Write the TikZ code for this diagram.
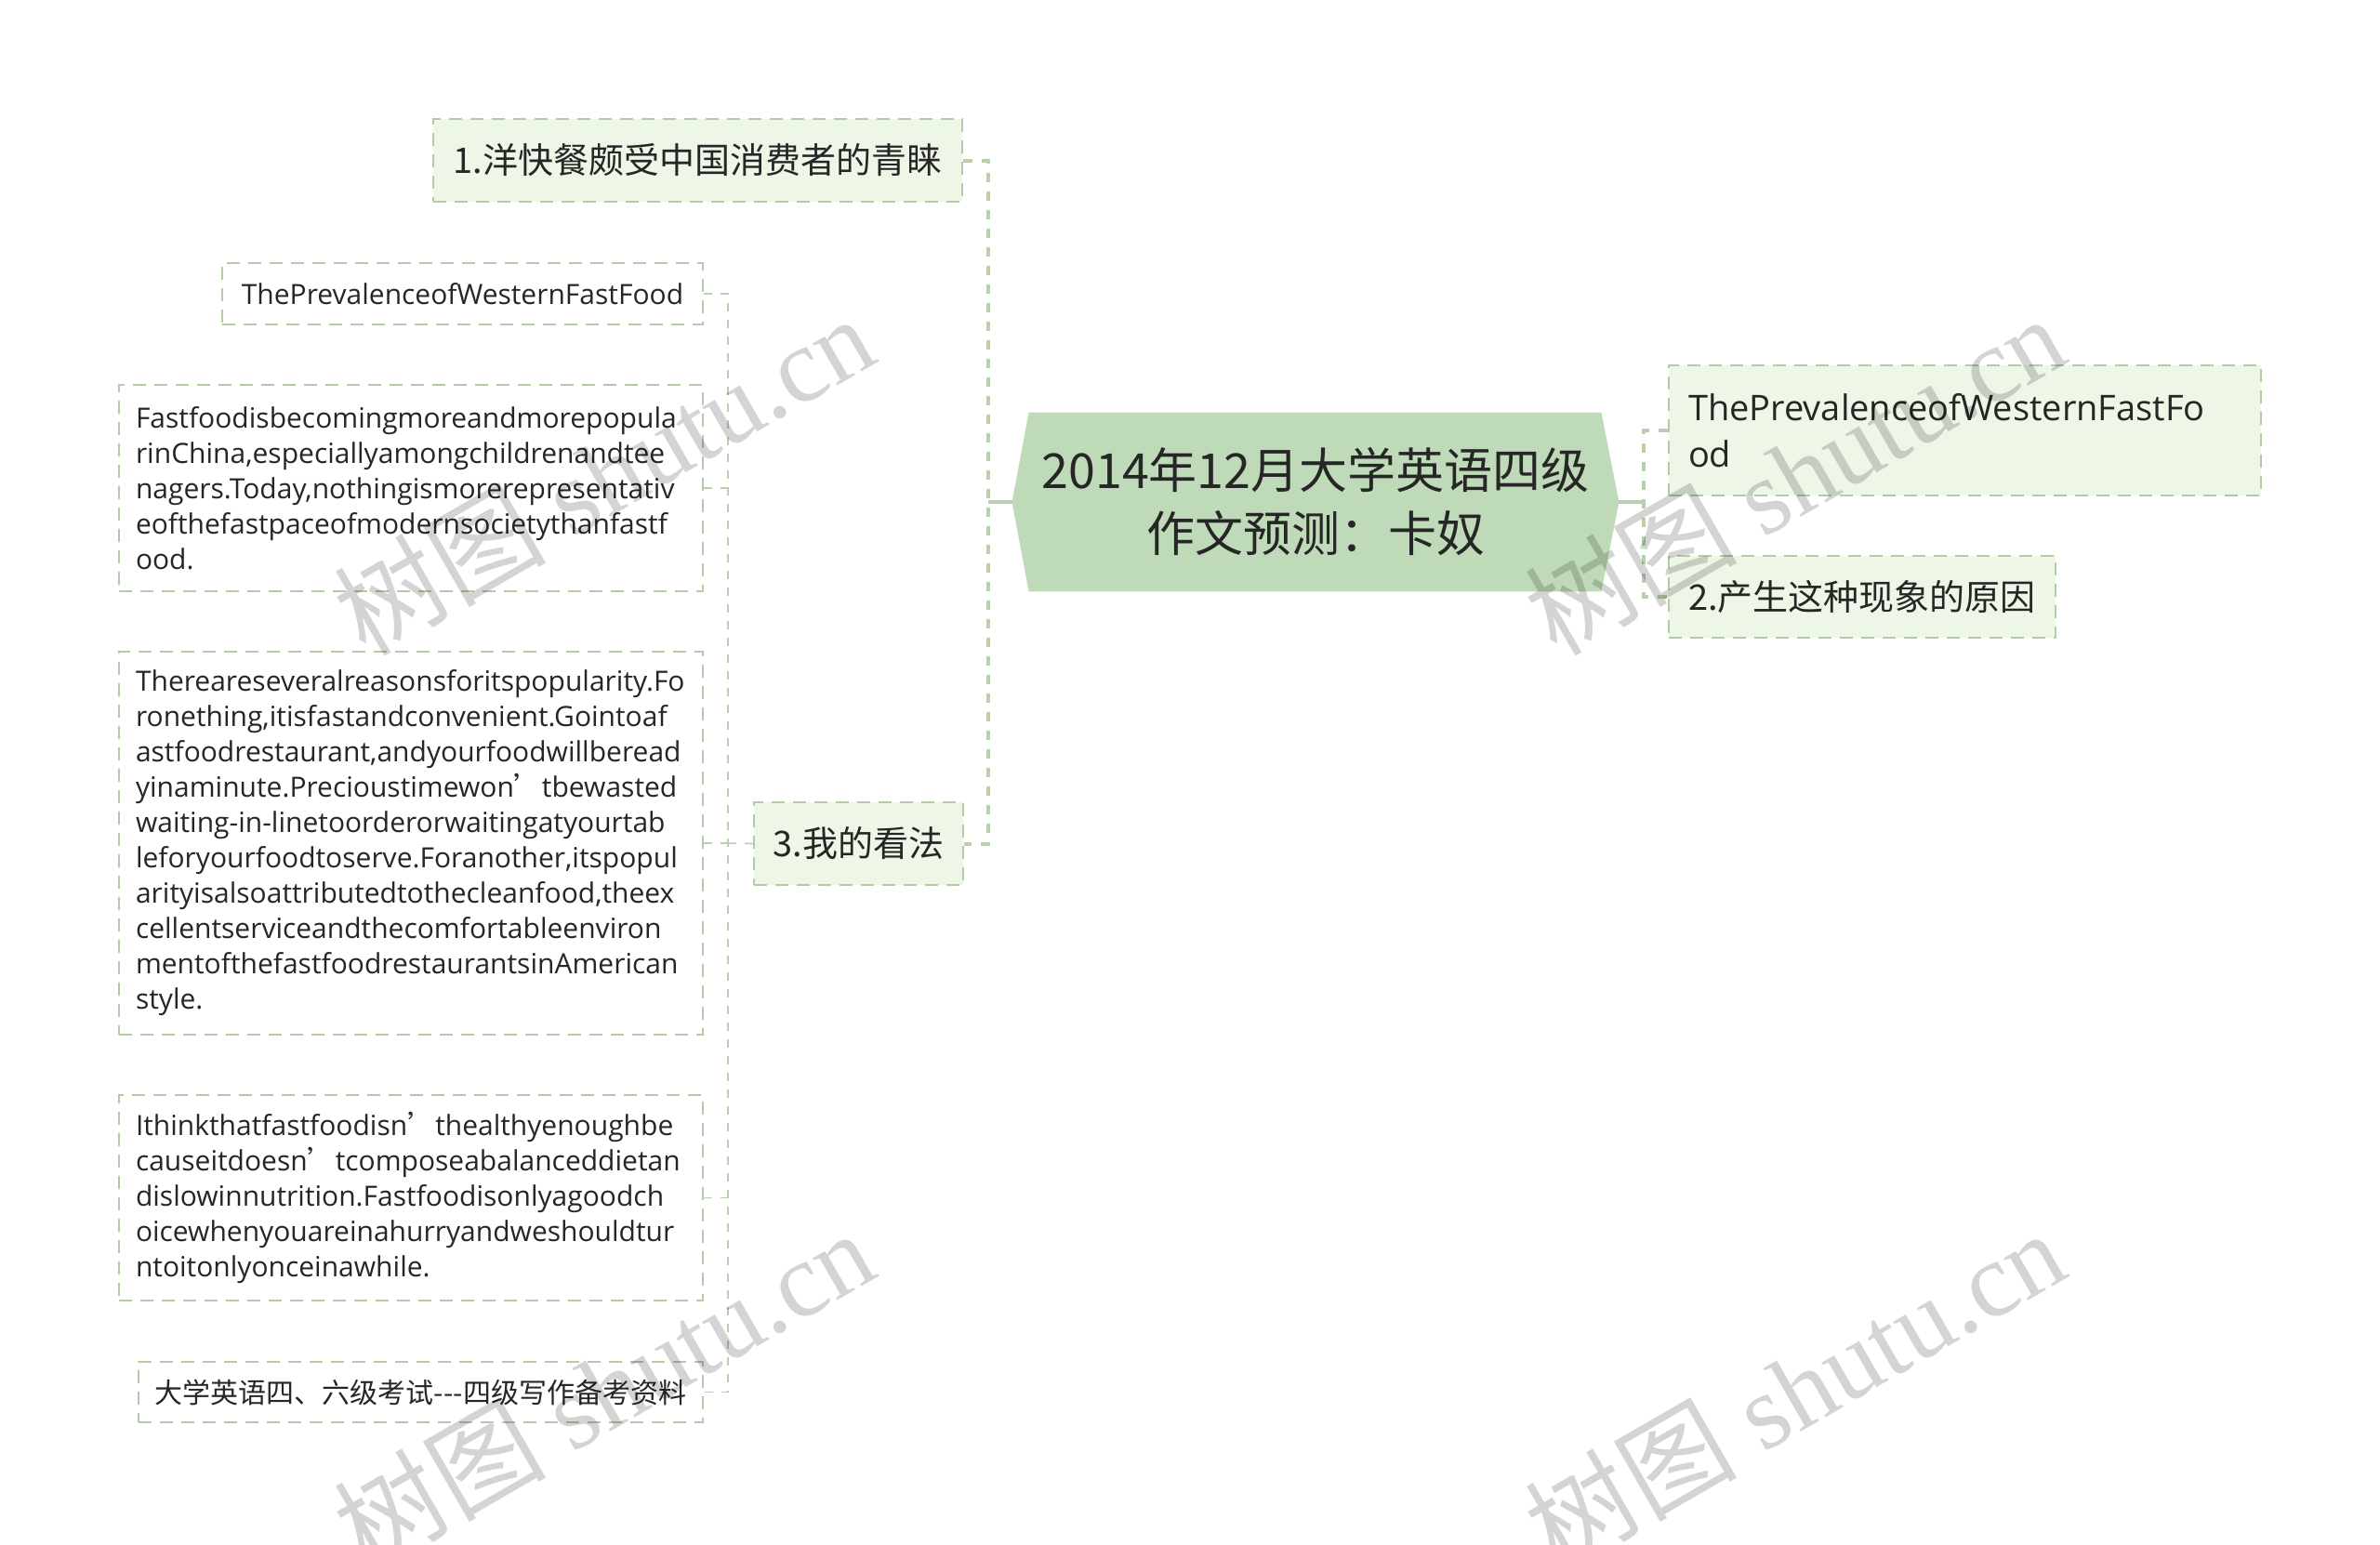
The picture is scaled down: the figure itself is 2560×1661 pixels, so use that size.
\documentclass[tikz,border=0pt]{standalone}
\usepackage{fontspec}
\setmainfont{Open Sans}
\newfontfamily\cjk{Noto Sans CJK SC}
\newfontfamily\wmserif{Liberation Serif}
\usetikzlibrary{backgrounds}
\definecolor{bordc}{HTML}{B3CCA8}
\definecolor{linec}{HTML}{B8D0AE}
\definecolor{centerfill}{HTML}{BFDAB8}
\definecolor{nodefill}{HTML}{EEF6E7}
\definecolor{textc}{HTML}{262626}
\exhyphenpenalty=10000
\hyphenpenalty=10000
\tikzset{
  boxborder/.style={draw=bordc, line width=1pt, dash pattern=on 7pt off 4.5pt},
  topicbox/.style={boxborder, fill=nodefill, text=textc, inner sep=0pt,
    font=\cjk\fontsize{19}{25}\selectfont},
  leftbox/.style={boxborder, fill=white, text=textc, inner sep=0pt,
    font=\fontsize{15}{19}\selectfont},
  centertext/.style={minimum width=326pt, minimum height=96pt, inner sep=0pt,
    align=center, text=textc, font=\cjk\fontsize{26}{34}\selectfont},
  mainline/.style={draw=linec, line width=2pt, dash pattern=on 5pt off 5pt},
  stubline/.style={draw=linec, line width=1.6pt},
  subline/.style={draw=linec, line width=0.8pt, dash pattern=on 4.5pt off 4.5pt},
  wm/.style={font=\wmserif\fontsize{57}{57}\selectfont, text=black,
    text opacity=0.17, inner sep=0pt, rotate=30}
}
\begin{document}
\begin{tikzpicture}[x=0.5pt,y=-0.5pt]
\useasboundingbox (0,0) rectangle (2560,1661);
\clip (0,0) rectangle (2560,1661);

% central topic
\node[centertext] (c) at (1415,540) {2014年12月大学英语四级\\作文预测：卡奴};
\begin{scope}[on background layer]
\fill[centerfill] (c.west) -- ([xshift=9pt]c.north west) -- ([xshift=-9.5pt]c.north east)
  -- (c.east) -- ([xshift=-9.5pt]c.south east) -- ([xshift=9pt]c.south west) -- cycle;
\end{scope}

% main branches
\node[topicbox, minimum width=284.5pt, minimum height=44.5pt] (n1) at (750.5,172.5) {1.洋快餐颇受中国消费者的青睐};
\node[topicbox, minimum width=112.5pt, minimum height=44.5pt] (n3) at (923.5,907.5) {3.我的看法};
\node[topicbox, minimum width=318.5pt, minimum height=70pt, text width=297.5pt, align=left,
  font=\fontsize{19}{25}\selectfont] (na) at (2113.5,463) {ThePrevalenceofWesternFastFo\\od};
\node[topicbox, minimum width=208pt, minimum height=44pt] (nb) at (2003,642) {2.产生这种现象的原因};

% left details
\node[leftbox, minimum width=258.5pt, minimum height=33pt] (l1) at (497.5,316) {ThePrevalenceofWesternFastFood};
\node[leftbox, minimum width=314pt, minimum height=111pt, text width=296pt, align=left] (l2) at (442,525) {%
Fastfoodisbecomingmoreandmorepopula\\
rinChina,especiallyamongchildrenandtee\\
nagers.Today,nothingismorerepresentativ\\
eofthefastpaceofmodernsocietythanfastf\\
ood.};
\node[leftbox, minimum width=314pt, minimum height=206pt, text width=296pt, align=left] (l3) at (442,907) {%
Thereareseveralreasonsforitspopularity.Fo\\
ronething,itisfastandconvenient.Gointoaf\\
astfoodrestaurant,andyourfoodwillberead\\
yinaminute.Precioustimewon{\cjk ’}tbewasted\\
waiting-in-linetoorderorwaitingatyourtab\\
leforyourfoodtoserve.Foranother,itspopul\\
arityisalsoattributedtothecleanfood,theex\\
cellentserviceandthecomfortableenviron\\
mentofthefastfoodrestaurantsinAmerican\\
style.};
\node[leftbox, minimum width=314pt, minimum height=110.5pt, text width=296pt, align=left] (l4) at (442,1288.5) {%
Ithinkthatfastfoodisn{\cjk ’}thealthyenoughbe\\
causeitdoesn{\cjk ’}tcomposeabalanceddietan\\
dislowinnutrition.Fastfoodisonlyagoodch\\
oicewhenyouareinahurryandweshouldtur\\
ntoitonlyonceinawhile.};
\node[leftbox, minimum width=303.5pt, minimum height=32.5pt, font=\cjk\fontsize{15}{19}\selectfont] (l5) at (452.5,1497.5) {大学英语四、六级考试---四级写作备考资料};

% junctions
\coordinate (jl) at (1063,540);
\coordinate (jr) at (1768,540);
\coordinate (jc) at (783,907);

% connectors
\draw[stubline] (c.west) -- (jl);
\draw[mainline] (n1.east) -| (jl) |- (n3.east);
\draw[stubline] (c.east) -- (jr);
\draw[mainline] (na.west) -| (jr) |- (nb.west);
\draw[subline] (l1.east) -| (jc) |- (l5.east);
\draw[subline] (l2.east) -- (l2.east -| jc);
\draw[subline] (l3.east) -- (jc);
\draw[subline] (l4.east) -- (l4.east -| jc);
\draw[subline] (n3.west) -- (jc);

% watermarks
\node[wm] (w1) at (649,510) {{\cjk 树图} shutu.cn};
\node[wm] (w2) at (1930,510) {{\cjk 树图} shutu.cn};
\node[wm] (w3) at (649,1494) {{\cjk 树图} shutu.cn};
\node[wm] (w4) at (1930,1494) {{\cjk 树图} shutu.cn};
\end{tikzpicture}
\end{document}
